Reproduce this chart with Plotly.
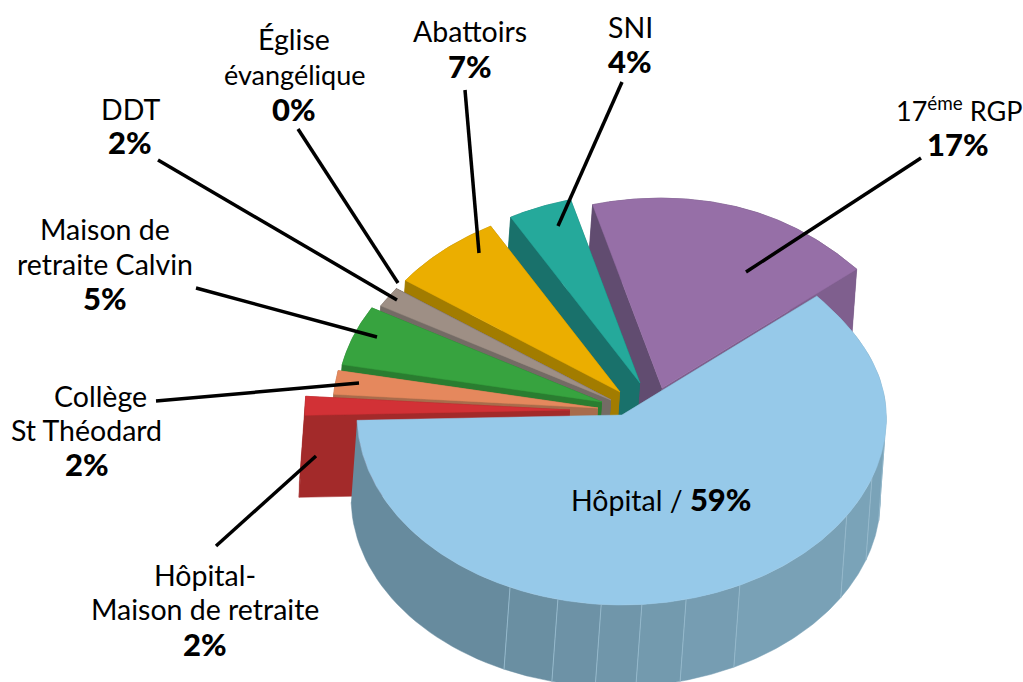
import numpy as np
import plotly.graph_objects as go

# ---- data (shares as drawn, counter-clockwise from the 17e RGP slice) ----
categories = ["17ème RGP", "SNI", "Abattoirs", "Église évangélique", "DDT",
              "Maison de retraite Calvin", "Collège St Théodard",
              "Hôpital-Maison de retraite", "Hôpital"]
values = [18.0, 3.9, 6.9, 0.04, 1.7, 5.1, 2.0, 1.6, 60.8]

# ---- slice styling ----
top_colors = ["#966FA7", "#25A99B", "#EBAE00", "#9E8F85", "#9E8F85", "#37A33F", "#E5885D", "#D23136", "#96C9E9"]
ccw_wall = ["#614C70", "#19716B", "#A27C00", "#746B65", "#746B65", "#2A7D30", "#A86C4C", "#A32A2A", "#66899C"]
cw_wall = ["#7F5F8E", "#19716B", "#A27C00", "#746B65", "#746B65", "#2A7D30", "#B06E4C", "#A52A2A", "#66899C"]
pull_x = [40, 18, -2, -11, -11, -20, -24, -52, 0]
pull_y = [-27, -32, -23, -15, -15, -13, -7, -5, 0]

CX, CY, RX, RY = 622, 415, 265, 190
DEPTH_X, DEPTH_Y = -6, 82
START_DEG = 40.4
seams = [245, 256, 265.5, 274.3, 284, 296.4, 328, 340.6, 352.8]
WARP_AMP, WARP_AT, WARP_WIDTH = 0.035, 40.0, 25.0  # slight flattening of the rim at upper right

leaders = [((622, 82), (558, 226)), ((921, 158), (746, 272)), ((465, 90), (479, 253)),
           ((298, 129), (398, 283)), ((158, 160), (397, 300)), ((196, 288), (377, 337)),
           ((156, 401), (359, 383)), ((216, 546), (316, 456))]


def pct(s):
    return f'<span style="font-weight:900;font-size:31px">{s}</span>'


def small(s):
    return f'<span style="font-size:27px">{s}</span>'


labels = [
    (630, 27, "SNI"), (630, 61, pct("4%")),
    (959, 109, small("17<sup>éme</sup> RGP")), (958, 144, pct("17%")),
    (470, 31, "Abattoirs"), (470, 66, pct("7%")),
    (294, 39, "Église"), (294, 74, small("évangélique")), (294, 109, pct("0%")),
    (130, 109, "DDT"), (130, 142, pct("2%")),
    (105, 229, "Maison de"), (105, 264, "retraite Calvin"), (105, 298, pct("5%")),
    (100, 396, "Collège"), (86, 430, "St Théodard"), (87, 464, pct("2%")),
    (205, 575, "Hôpital-"), (205, 609, "Maison de retraite"), (205, 644, pct("2%")),
    (661, 499, "Hôpital / " + pct("59%")),
]

FONT = "Lato"
FS = 28.5

fig = go.Figure()


def poly(xs, ys, color, width=0.5):
    fig.add_trace(go.Scatter(x=xs, y=ys, mode="lines", fill="toself", fillcolor=color,
                             line=dict(color=color, width=width), hoverinfo="skip", showlegend=False))


def lerp(a, b, t):
    a = [int(a[i:i + 2], 16) for i in (1, 3, 5)]
    b = [int(b[i:i + 2], 16) for i in (1, 3, 5)]
    return "#%02X%02X%02X" % tuple(int(round(p + (q - p) * t)) for p, q in zip(a, b))


def rim(ax, ay, deg):
    deg = np.asarray(deg, dtype=float)
    d = (deg - WARP_AT + 180) % 360 - 180
    k = 1 - WARP_AMP * np.exp(-(d / WARP_WIDTH) ** 2)
    t = np.radians(deg)
    return ax + k * RX * np.cos(t), ay - k * RY * np.sin(t)


shares = np.array(values) / sum(values) * 360
edges = START_DEG + np.concatenate([[0], np.cumsum(shares)])

for i, name in enumerate(categories):
    a0, a1 = edges[i], edges[i + 1]
    ax, ay = CX + pull_x[i], CY + pull_y[i]
    ox, oy = rim(ax, ay, np.linspace(a0, a1, max(3, int((a1 - a0) * 2))))

    if name != "Hôpital":
        # outer wall and both radial walls, then the top
        poly(list(ox) + list(ox[::-1] + DEPTH_X), list(oy) + list(oy[::-1] + DEPTH_Y), ccw_wall[i])
        poly([ax, ox[0], ox[0] + DEPTH_X, ax + DEPTH_X], [ay, oy[0], oy[0] + DEPTH_Y, ay + DEPTH_Y], cw_wall[i])
        poly([ax, ox[-1], ox[-1] + DEPTH_X, ax + DEPTH_X], [ay, oy[-1], oy[-1] + DEPTH_Y, ay + DEPTH_Y], ccw_wall[i])
    else:
        # left radial wall, then the outer wall cut in panels at its seams
        poly([ax, ox[-1], ox[-1] + DEPTH_X, ax + DEPTH_X], [ay, oy[-1], oy[-1] + DEPTH_Y, ay + DEPTH_Y], ccw_wall[i])
        front = [a0] + seams + [a1]
        for j in range(len(front) - 1):
            px, py = rim(ax, ay, np.linspace(front[j], front[j + 1], 30))
            col = lerp("#66899C", "#7AA3B8", min(1, (j + 0.5) / 7))
            poly(list(px) + list(px[::-1] + DEPTH_X), list(py) + list(py[::-1] + DEPTH_Y), col)
        for s in seams:
            sx, sy = rim(ax, ay, s)
            fig.add_trace(go.Scatter(x=[sx, sx + DEPTH_X], y=[sy, sy + DEPTH_Y], mode="lines",
                                     line=dict(color="#94B8CB", width=1), hoverinfo="skip", showlegend=False))
    poly([ax] + list(ox) + [ax], [ay] + list(oy) + [ay], top_colors[i])

for (x0, y0), (x1, y1) in leaders:
    fig.add_trace(go.Scatter(x=[x0, x1], y=[y0, y1], mode="lines", line=dict(color="black", width=3.5),
                             hoverinfo="skip", showlegend=False))

for x, y, text in labels:
    fig.add_annotation(x=x, y=y, text=text, showarrow=False, xanchor="center", yanchor="middle",
                       align="center", font=dict(family=FONT, size=FS, color="black"))

fig.update_layout(
    width=1023, height=682, margin=dict(l=0, r=0, t=0, b=0),
    paper_bgcolor="white", plot_bgcolor="white", showlegend=False,
    xaxis=dict(range=[0, 1023], visible=False, fixedrange=True),
    yaxis=dict(range=[682, 0], visible=False, fixedrange=True),
)
fig.write_html("out.html", config={"displayModeBar": False},
               post_script="document.body.style.margin='0';document.body.style.overflow='hidden';")
